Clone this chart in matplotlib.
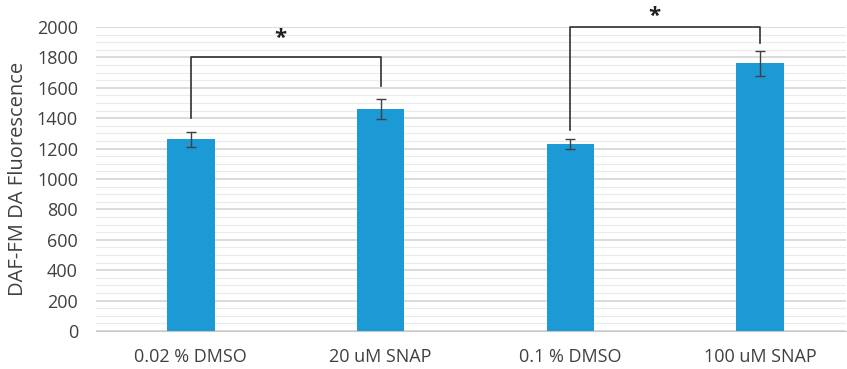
import matplotlib.pyplot as plt
from matplotlib.ticker import MultipleLocator

categories = ["0.02 % DMSO", "20 uM SNAP", "0.1 % DMSO", "100 uM SNAP"]
values = [1260, 1460, 1230, 1760]
errors = [50, 65, 35, 80]

# significance brackets: (left bar, right bar, left leg end, right leg end, bar height, star height, star shift)
brackets = [(0, 1, 1400, 1610, 1800, 1925, -0.03),
            (2, 3, 1320, 1895, 2000, 2070, -0.06)]

plt.rcParams['font.family'] = ['Open Sans', 'DejaVu Sans']

fig = plt.figure(figsize=(8.47, 3.69), dpi=100)
ax = fig.add_axes([0.1133, 0.103, 0.885, 0.824])

x = range(len(categories))
ax.bar(x, values, width=0.25, color="#1b9ad6", zorder=3)
ax.errorbar(x, values, yerr=errors, fmt="none", ecolor="#404040",
            elinewidth=1, capsize=3.8, capthick=1, zorder=4)

ax.set_ylim(0, 2000)
ax.set_xlim(-0.5, len(categories) - 0.55)
ax.yaxis.set_major_locator(MultipleLocator(200))
ax.yaxis.set_minor_locator(MultipleLocator(50))
ax.grid(True, which="major", axis="y", color="#d4d4d4", linewidth=1.2, zorder=0)
ax.grid(True, which="minor", axis="y", color="#ebebeb", linewidth=0.8, zorder=0)

for s in ["top", "right", "left"]:
    ax.spines[s].set_visible(False)
ax.spines["bottom"].set_color("#c8c8c8")
ax.tick_params(axis="both", which="both", length=0, labelsize=13, colors="#404040")
ax.tick_params(axis="y", pad=13)
ax.tick_params(axis="x", pad=12)
ax.set_xticks(list(x))
ax.set_xticklabels(categories)
ax.set_ylabel("DAF-FM DA Fluorescence", fontsize=14.5, color="#404040", labelpad=6)

for a, b, ya, yb, top, sy, sx in brackets:
    ax.plot([a, a, b, b], [ya, top, top, yb], color="#303030", lw=1.2,
            clip_on=False, zorder=5)
    ax.text((a + b) / 2 + sx, sy, "*", ha="center", va="center",
            fontsize=16, fontweight="bold", color="#202020", clip_on=False)

fig.savefig("out.png", dpi=100)
